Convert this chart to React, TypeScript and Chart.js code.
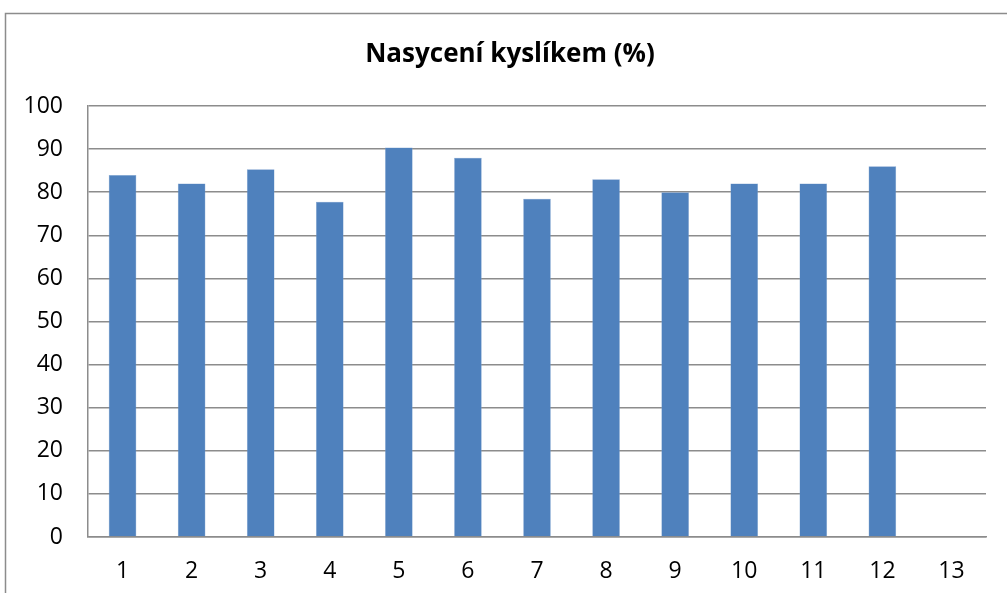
import React, { useEffect, useRef } from "react";
import { Chart, registerables } from "chart.js";

Chart.register(...registerables);

const title = "Nasycení kyslíkem (%)";
const categories = ["1", "2", "3", "4", "5", "6", "7", "8", "9", "10", "11", "12", "13"];
const saturation = [84, 82, 85.3, 77.8, 90.4, 88, 78.5, 83, 80, 82, 82, 86, null];

const FONT = "'Open Sans', 'Liberation Sans', sans-serif";

const framePlugin = {
  id: "frame",
  beforeDraw(chart: any) {
    const { ctx } = chart;
    ctx.save();
    ctx.fillStyle = "#ffffff";
    ctx.fillRect(0, 0, chart.width, chart.height);
    ctx.strokeStyle = "#8c8c8c";
    ctx.lineWidth = 1.5;
    ctx.strokeRect(5.5, 13.5, chart.width + 10, chart.height + 10);
    ctx.fillStyle = "#000000";
    ctx.font = `bold 26px ${FONT}`;
    ctx.textAlign = "center";
    ctx.textBaseline = "middle";
    ctx.fillText(title, 510, 55);
    ctx.restore();
  },
};

export default function App() {
  const ref = useRef<HTMLCanvasElement>(null);
  useEffect(() => {
    if (!ref.current) return;
    const chart = new Chart(ref.current, {
      type: "bar",
      data: {
        labels: categories,
        datasets: [
          {
            data: saturation as any,
            backgroundColor: "#4F81BD",
            borderColor: "#7fa3d0",
            borderWidth: 0.5,
            barPercentage: 0.4,
            categoryPercentage: 1,
          },
        ],
      },
      options: {
        animation: false,
        responsive: false,
        layout: { padding: { top: 106, right: 21, left: 0, bottom: 0 } },
        plugins: { legend: { display: false }, tooltip: { enabled: false }, title: { display: false } },
        scales: {
          x: {
            grid: { display: false, drawTicks: false },
            border: { display: true, color: "#8c8c8c", width: 1.5 },
            ticks: { color: "#000", font: { family: FONT, size: 23 }, padding: 21 },
            afterFit: (s: any) => { s.height = 56; },
          },
          y: {
            min: 0,
            max: 100,
            ticks: { stepSize: 10, color: "#000", font: { family: FONT, size: 23 }, padding: 25 },
            grid: { color: "#8c8c8c", lineWidth: 1.5, drawTicks: false },
            border: { display: true, color: "#8c8c8c", width: 1.5 },
            afterFit: (s: any) => { s.width = 88; },
          },
        },
      },
      plugins: [framePlugin],
    });
    return () => chart.destroy();
  }, []);
  return (
    <div style={{ position: "fixed", left: 0, top: 0, width: 1007, height: 593 }}>
      <canvas ref={ref} width={1007} height={593} style={{ width: 1007, height: 593 }} />
    </div>
  );
}
